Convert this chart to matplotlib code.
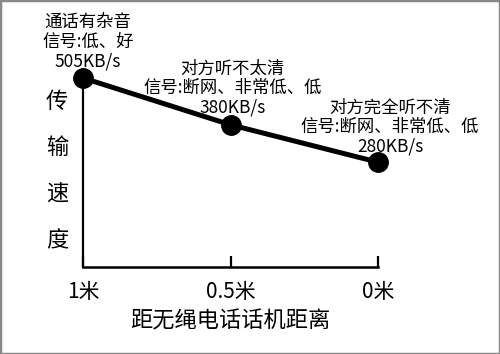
import matplotlib
matplotlib.use("Agg")
import matplotlib.pyplot as plt
from matplotlib.patches import Rectangle

plt.rcParams['font.family'] = ['Noto Sans CJK SC', 'DejaVu Sans']
plt.rcParams['font.weight'] = 'medium'

# data
distances = [1, 0.5, 0]
tick_labels = ["1米", "0.5米", "0米"]
speeds = [505, 380, 280]
status = ["通话有杂音", "对方听不太清", "对方完全听不清"]
signal = ["信号:低、好", "信号:断网、非常低、低", "信号:断网、非常低、低"]
speed_text = ["505KB/s", "380KB/s", "280KB/s"]

fig = plt.figure(figsize=(5, 3.54), dpi=100)
ax = fig.add_axes([83 / 500, 1 - 267 / 354, 295 / 500, 189 / 354])

ax.plot(distances, speeds, color='black', lw=3.6, marker='o', ms=14,
        clip_on=False, zorder=3)

ax.set_xlim(1, 0)
ax.set_ylim(0, 505)
ax.spines['top'].set_visible(False)
ax.spines['right'].set_visible(False)
ax.spines['left'].set_linewidth(1.6)
ax.spines['bottom'].set_linewidth(1.8)
ax.set_yticks([])
ax.set_xticks(distances)
ax.set_xticklabels(tick_labels, fontsize=15)
ax.tick_params(axis='x', direction='in', length=8, width=1.6, pad=10)
ax.set_xlabel("距无绳电话话机距离", fontsize=16, labelpad=5)

# annotations above each point
offsets = [(5, 12), (2, 12), (12, 11)]
for i in range(len(distances)):
    txt = status[i] + "\n" + signal[i] + "\n" + speed_text[i]
    ax.annotate(txt, (distances[i], speeds[i]), xytext=offsets[i],
                textcoords='offset pixels', ha='center', va='baseline',
                fontsize=12.5, linespacing=1.1, annotation_clip=False)

# vertical y label
fig.text(57 / 500, 1 - 171 / 354, "\n".join("传输速度"), ha='center',
         va='center', fontsize=16, linespacing=2.3)

fig.patches.append(Rectangle((0, 0), 1, 1, transform=fig.transFigure,
                             fill=False, edgecolor='#888888', lw=2.5))

fig.savefig("out.png", dpi=100)
